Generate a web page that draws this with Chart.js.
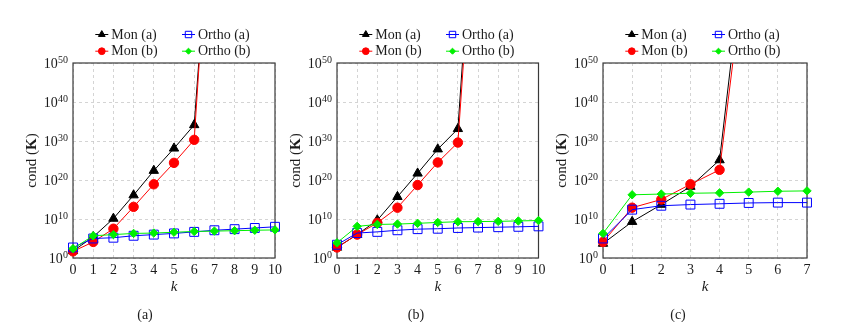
<!DOCTYPE html>
<html><head><meta charset="utf-8">
<script src="https://cdn.jsdelivr.net/npm/chart.js@4/dist/chart.umd.min.js"></script>
<style>
html,body{margin:0;padding:0;background:#fff;width:846px;height:322px;overflow:hidden}
body{position:relative}
canvas{position:absolute;top:0}
</style></head><body>
<canvas id="ca" width="282" height="322" style="left:13px;width:282px;height:322px"></canvas>
<canvas id="cb" width="282" height="322" style="left:277px;width:282px;height:322px"></canvas>
<canvas id="cc" width="282" height="322" style="left:543px;width:282px;height:322px"></canvas>
<script>
// ---- data ----
const kAB = ['0','1','2','3','4','5','6','7','8','9','10'];
const kC = ['0','1','2','3','4','5','6','7'];
const seriesNames = ['Mon (a)', 'Mon (b)', 'Ortho (a)', 'Ortho (b)'];
const yTickExps = [0, 10, 20, 30, 40, 50];
const captions = ['(a)', '(b)', '(c)'];

// panel (a)
const a_monA   = [6.3e1, 2.5e5, 1.3e10, 1.3e16, 2.5e22, 1.3e28, 1.3e34, 1e105, null, null, null];
const a_monB   = [5.0e1, 1.3e4, 3.2e7, 1.3e13, 7.9e18, 2.5e24, 2.0e30, 1e110, null, null, null];
const a_orthoA = [5.0e2, 1.0e5, 1.6e5, 5.0e5, 1.0e6, 2.0e6, 5.0e6, 1.3e7, 2.5e7, 5.0e7, 1.0e8];
const a_orthoB = [2.5e2, 5.0e5, 1.0e6, 2.0e6, 2.5e6, 4.0e6, 6.3e6, 7.9e6, 1.0e7, 1.3e7, 1.6e7];
// panel (b)
const b_monA   = [5.0e2, 1.0e6, 5.0e9, 5.0e15, 5.0e21, 7.9e27, 1.3e33, 1e108, null, null, null];
const b_monB   = [5.0e2, 1.0e6, 1.0e9, 7.9e12, 5.0e18, 3.2e24, 4.0e29, 1e104, null, null, null];
const b_orthoA = [2.5e3, 2.5e6, 5.0e6, 1.3e7, 2.5e7, 3.2e7, 5.0e7, 6.3e7, 7.9e7, 1.0e8, 1.3e8];
const b_orthoB = [7.9e3, 1.3e8, 4.0e8, 5.0e8, 7.9e8, 1.3e9, 2.0e9, 2.2e9, 2.5e9, 3.2e9, 4.0e9];
// panel (c)
const c_monA   = [5.0e3, 2.0e9, 5.0e13, 2.0e18, 1.3e25, 1e89, null, null];
const c_monB   = [1.3e4, 7.9e12, 1.0e15, 7.9e18, 4.0e22, 1e83, null, null];
const c_orthoA = [1.0e5, 2.5e12, 2.5e13, 5.0e13, 7.9e13, 1.3e14, 1.6e14, 1.6e14];
const c_orthoB = [2.0e6, 1.6e16, 2.5e16, 4.0e16, 5.0e16, 7.9e16, 1.3e17, 1.6e17];

// ---- styles ----
const serif = '"Liberation Serif", "Times New Roman", serif';
const ink = '#1c1c1c';
const gridColor = '#c9c9c9';
const styles = [
  {borderColor:'#000000', fill:'#000000', pointStyle:'triangle', pointRadius:5.4, order:4},
  {borderColor:'#ff0000', fill:'#ff0000', pointStyle:'circle',   pointRadius:4.7, order:3},
  {borderColor:'#0000ff', fill:'rgba(0,0,0,0)', pointStyle:'rect', pointRadius:6.3, order:2},
  {borderColor:'#00f000', fill:'#00f000', pointStyle:'rectRot', pointRadius:4.2, order:1}
];

function drawMarker(ctx, st, x, y, r) {
  ctx.save();
  ctx.fillStyle = st.fill; ctx.strokeStyle = st.borderColor; ctx.lineWidth = 1;
  if (Chart.helpers && Chart.helpers.drawPoint) {
    Chart.helpers.drawPoint(ctx, {pointStyle: st.pointStyle, rotation: 0, radius: r, borderWidth: 1}, x, y);
  } else {
    ctx.beginPath(); ctx.arc(x, y, r, 0, Math.PI*2); ctx.fill(); ctx.stroke();
  }
  ctx.restore();
}

const panelPlugin = {
  id: 'panel',
  beforeDatasetsDraw(chart) {
    const {ctx, chartArea: a} = chart;
    ctx.save();
    ctx.strokeStyle = '#3a3a3a'; ctx.lineWidth = 1.2;
    ctx.strokeRect(a.left, a.top, a.right - a.left, a.bottom - a.top);
    ctx.restore();
  },
  afterDraw(chart, args, opts) {
    const {ctx, chartArea: a, scales} = chart;
    const ys = scales.y;
    ctx.save();
    ctx.fillStyle = ink;
    // y tick labels 10^e
    yTickExps.forEach(e => {
      const py = ys.getPixelForValue(Math.pow(10, e));
      const xr = a.left - 5;
      ctx.textAlign = 'right'; ctx.textBaseline = 'middle';
      ctx.font = `10px ${serif}`;
      const sup = String(e);
      const sw = ctx.measureText(sup).width;
      ctx.fillText(sup, xr, py - 2.5);
      ctx.font = `14px ${serif}`;
      ctx.fillText('10', xr - sw - 0.3, py + 1.5);
    });
    // y title: cond (K) with bold K
    const parts = [['cond (', `15px ${serif}`], ['K', `bold 15px ${serif}`], [')', `15px ${serif}`]];
    let total = 0;
    parts.forEach(p => { ctx.font = p[1]; total += ctx.measureText(p[0]).width; });
    ctx.save();
    ctx.translate(a.left - 41, (a.top + a.bottom) / 2);
    ctx.rotate(-Math.PI / 2);
    ctx.textAlign = 'left'; ctx.textBaseline = 'middle';
    let x = -total / 2;
    parts.forEach(p => { ctx.font = p[1]; ctx.fillText(p[0], x, 0); x += ctx.measureText(p[0]).width; });
    ctx.restore();
    // legend (2 x 2)
    const colX = [28.8, 115.5], rowY = [-28.5, -11.8];
    chart.data.datasets.forEach((ds, i) => {
      const col = i < 2 ? 0 : 1, row = i % 2;
      const mx = a.left + colX[col], my = a.top + rowY[row];
      const st = styles[i];
      ctx.save();
      ctx.strokeStyle = st.borderColor; ctx.lineWidth = 1;
      ctx.beginPath(); ctx.moveTo(mx - 6.5, my); ctx.lineTo(mx + 6.5, my); ctx.stroke();
      ctx.restore();
      drawMarker(ctx, st, mx, my, st.pointRadius * 0.72);
      ctx.fillStyle = ink;
      ctx.font = `14px ${serif}`;
      ctx.textAlign = 'left'; ctx.textBaseline = 'middle';
      ctx.fillText(ds.label, mx + 9.5, my + 0.5);
    });
    // caption
    ctx.font = `14px ${serif}`;
    ctx.textAlign = 'center'; ctx.textBaseline = 'middle';
    ctx.fillText(opts.caption, a.left + opts.capDx, 315);
    ctx.restore();
  }
};

function makeChart(id, labels, series, caption, capDx, padRight) {
  const datasets = series.map((vals, i) => {
    const st = styles[i];
    return {
      label: seriesNames[i], data: vals,
      borderColor: st.borderColor, backgroundColor: st.fill,
      pointBackgroundColor: st.fill, pointBorderColor: st.borderColor,
      pointStyle: st.pointStyle, pointRadius: st.pointRadius, pointHoverRadius: st.pointRadius,
      pointBorderWidth: 1, borderWidth: 1, tension: 0, order: st.order,
      spanGaps: false, clip: {left: 12, right: 12, top: 0, bottom: 12}
    };
  });
  return new Chart(document.getElementById(id), {
    type: 'line',
    data: {labels, datasets},
    options: {
      responsive: false, animation: false, devicePixelRatio: 1,
      layout: {padding: {left: 0, right: padRight, top: 63, bottom: 0}},
      plugins: {legend: {display: false}, title: {display: false}, tooltip: {enabled: false},
                panel: {caption, capDx}},
      scales: {
        x: {
          type: 'category', offset: false,
          grid: {color: gridColor, lineWidth: 0.8, drawTicks: false},
          border: {display: false, dash: [3, 3]},
          ticks: {font: {family: serif, size: 14}, color: ink, padding: 4, maxRotation: 0, autoSkip: false},
          title: {display: true, text: 'k', color: ink, font: {family: serif, size: 15, style: 'italic'}, padding: {top: 0, bottom: 26}},
          afterFit: s => { s.height = 64; }
        },
        y: {
          type: 'logarithmic', min: 1, max: 1e50,
          afterBuildTicks: s => { s.ticks = yTickExps.map(e => ({value: Math.pow(10, e)})); },
          grid: {color: gridColor, lineWidth: 0.8, drawTicks: false},
          border: {display: false, dash: [3, 3]},
          ticks: {display: false},
          afterFit: s => { s.width = 60; }
        }
      }
    },
    plugins: [panelPlugin]
  });
}

makeChart('ca', kAB, [a_monA, a_monB, a_orthoA, a_orthoB], captions[0], 72, 20);
makeChart('cb', kAB, [b_monA, b_monB, b_orthoA, b_orthoB], captions[1], 79, 20.5);
makeChart('cc', kC,  [c_monA, c_monB, c_orthoA, c_orthoB], captions[2], 75, 18);
</script>
</body></html>
